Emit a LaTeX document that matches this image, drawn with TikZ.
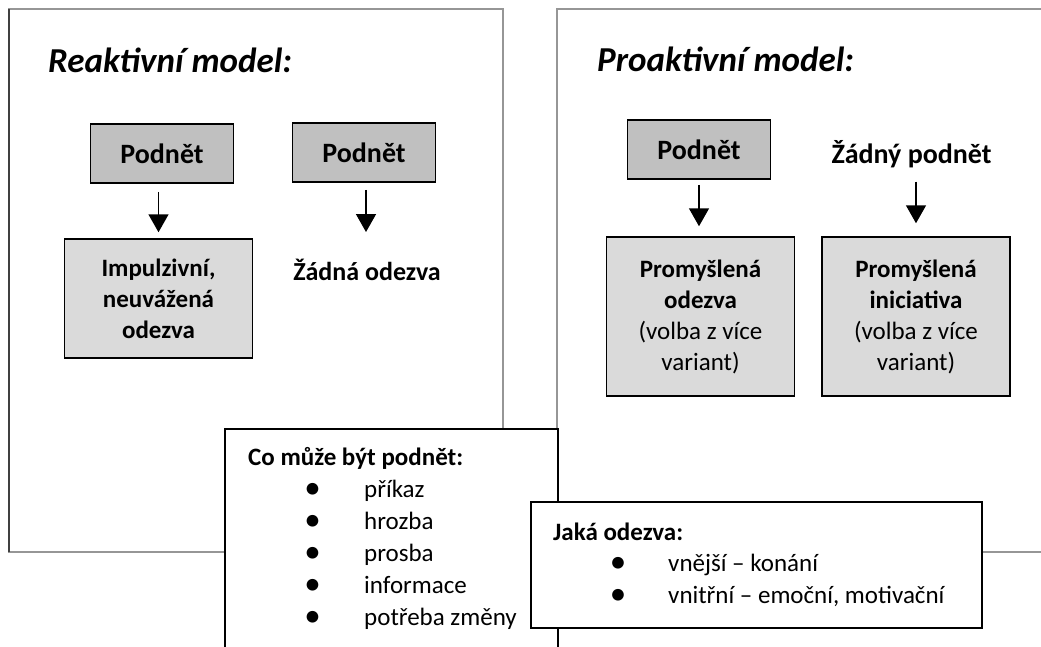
\documentclass[tikz,border=0pt]{standalone}
\usepackage{fontspec}
\setmainfont{Carlito}
\usetikzlibrary{arrows.meta}

\definecolor{framegray}{RGB}{150,150,150}
\definecolor{stimfill}{RGB}{192,192,192}
\definecolor{respfill}{RGB}{218,218,218}

\begin{document}
\begin{tikzpicture}[x=1pt,y=-1pt,
  panel/.style={draw=framegray, line width=1.3pt},
  stimbox/.style={draw=black, line width=1.5pt, fill=stimfill, inner sep=0pt,
    minimum width=143pt, minimum height=59pt,
    font=\fontsize{28}{31}\bfseries\selectfont, text height=20pt, text depth=0pt},
  respbox/.style={draw=black, line width=1.5pt, fill=respfill, inner sep=0pt,
    minimum width=188pt, align=center, font=\fontsize{25}{31}\selectfont},
  infobox/.style={draw=black, line width=1.5pt, fill=white},
  heading/.style={anchor=base west, inner sep=0pt, font=\fontsize{35}{38}\bfseries\itshape\selectfont},
  boldlabel/.style={inner sep=0pt, font=\fontsize{28}{31}\bfseries\selectfont},
  listhead/.style={anchor=base west, inner sep=0pt, font=\fontsize{25}{30}\bfseries\selectfont},
  item/.style={anchor=base west, inner sep=0pt, font=\fontsize{25}{30}\selectfont},
  dot/.style={anchor=base, inner sep=0pt, yshift=-1.5pt, font=\fontsize{33}{30}\selectfont},
  arr/.style={draw=black, line width=1.5pt, -{Triangle[width=20pt,length=18pt]}}
]
\useasboundingbox (0,0) rectangle (1041,646);
\clip (0,0) rectangle (1041,646);

% the two model panels
\draw[panel] (9,9) rectangle (503,552);
\draw[panel, draw=black!75] (9,9) -- (9,552);
\draw[panel] (557,9) rectangle (1100,552);

% reactive model
\node[heading] (rtitle) at (48,72) {Reaktivní model:};
\node[stimbox] (rs1) at (162,153.5) {Podnět};
\node[stimbox] (rs2) at (364,152.5) {Podnět};
\node[respbox, minimum height=119pt] (rr1) at (158.5,298.5)
  {\textbf{Impulzivní,}\\\textbf{neuvážená}\\\textbf{odezva}};
\node[boldlabel, font=\fontsize{26}{31}\bfseries\selectfont] (rr2) at (367,270) {Žádná odezva};
\draw[arr, shorten <=8pt, shorten >=6pt] (rr1.north |- rs1.south) -- (rr1.north);
\draw[arr, shorten <=7pt, shorten >=27pt] ([xshift=2pt]rs2.south) -- ([xshift=2pt]rs2.south |- rr2.north);

% proactive model
\node[heading] (ptitle) at (597,71) {Proaktivní model:};
\node[stimbox] (ps1) at (699,149.5) {Podnět};
\node[boldlabel, anchor=base] (ps2) at (911.5,163) {Žádný podnět};
\node[respbox, minimum height=159pt] (pr1) at (700.5,316.5)
  {\textbf{Promyšlená}\\\textbf{odezva}\\(volba z více\\variant)};
\node[respbox, minimum height=159pt] (pr2) at (916,316.5)
  {\textbf{Promyšlená}\\\textbf{iniciativa}\\(volba z více\\variant)};
\draw[arr, shorten <=5pt, shorten >=10pt] (ps1.south) -- (ps1.south |- pr1.north);
\draw[arr, shorten <=14pt, shorten >=13pt] (pr2.north |- ps2.south) -- (pr2.north);

% what a stimulus can be
\node[infobox, anchor=north west, minimum width=333pt, minimum height=260pt] (stimlist) at (224,428) {};
\node[listhead] (sh) at (248,465) {Co může být podnět:};
\foreach \y/\t [count=\i] in {497/příkaz, 529/hrozba, 561/prosba, 593/informace, 625/potřeba změny}{
  \node[dot] (sd\i) at (312.5,\y) {•};
  \node[item] (si\i) at (364,\y) {\t};
}

% what a response can be
\node[infobox, anchor=north west, minimum width=451pt, minimum height=126pt] (resplist) at (530,501) {};
\node[listhead] (rh) at (553,540) {Jaká odezva:};
\node[dot] (rd1) at (618,571) {•};
\node[item] (ri1) at (668,571) {vnější – konání};
\node[dot] (rd2) at (618,603) {•};
\node[item] (ri2) at (668,603) {vnitřní – emoční, motivační};
\end{tikzpicture}
\end{document}
